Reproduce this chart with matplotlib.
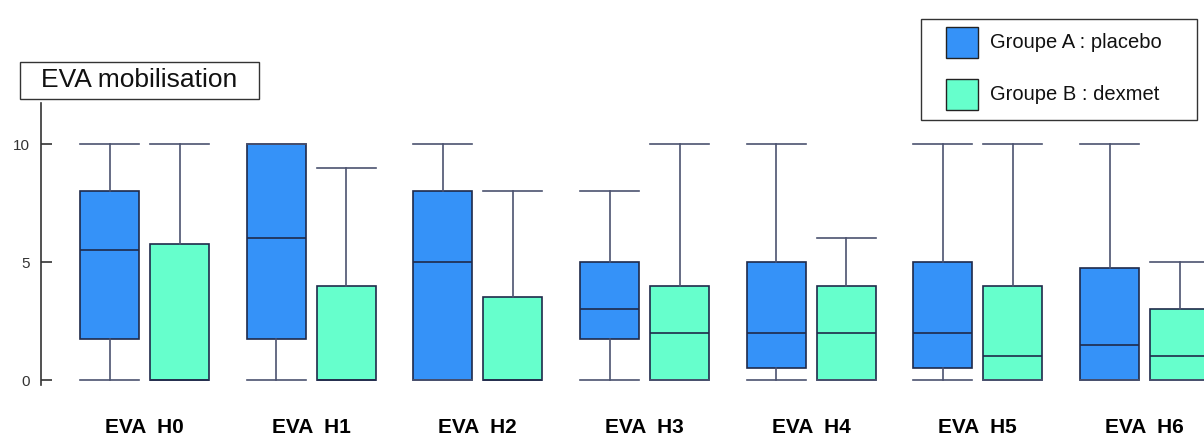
import matplotlib.pyplot as plt
from matplotlib.patches import Rectangle

plt.rcParams['font.family'] = ['Liberation Sans', 'DejaVu Sans']

# EVA mobilisation, lecture des boites (min, q1, mediane, q3, max)
labels = ['EVA  H0', 'EVA  H1', 'EVA  H2', 'EVA  H3', 'EVA  H4', 'EVA  H5', 'EVA  H6']

a_lo = [0, 0, 0, 0, 0, 0, 0]
a_q1 = [1.75, 1.75, 0, 1.75, 0.5, 0.5, 0]
a_med = [5.5, 6, 5, 3, 2, 2, 1.5]
a_q3 = [8, 10, 8, 5, 5, 5, 4.75]
a_hi = [10, 10, 10, 8, 10, 10, 10]

b_lo = [0, 0, 0, 0, 0, 0, 0]
b_q1 = [0, 0, 0, 0, 0, 0, 0]
b_med = [0, 0, 0, 2, 2, 1, 1]
b_q3 = [5.75, 4, 3.5, 4, 4, 4, 3]
b_hi = [10, 9, 8, 10, 6, 10, 5]

bleu = '#3592f8'
vert = '#66ffcc'
bord = '#1f2a4a'
moust = '#4c5370'


def stats(lo, q1, med, q3, hi):
    return [dict(whislo=l, q1=a, med=m, q3=b, whishi=h, fliers=[])
            for l, a, m, b, h in zip(lo, q1, med, q3, hi)]


fig = plt.figure(figsize=(12.04, 4.38), dpi=100)
ax = fig.add_axes([41 / 1204, 53 / 438, 1163 / 1204, 282 / 438])

w = 0.354
x = range(len(labels))
for st, dx, col in [(stats(a_lo, a_q1, a_med, a_q3, a_hi), -0.21, bleu),
                    (stats(b_lo, b_q1, b_med, b_q3, b_hi), 0.21, vert)]:
    ax.bxp(st, positions=[i + dx for i in x], widths=w, capwidths=w,
           patch_artist=True, showfliers=False, manage_ticks=False,
           boxprops=dict(facecolor=col, edgecolor=bord, linewidth=1.2),
           whiskerprops=dict(color=moust, linewidth=1.2),
           capprops=dict(color=moust, linewidth=1.2),
           medianprops=dict(color=bord, linewidth=1.2))

ax.set_xlim(-0.621, 6.357)
ax.set_ylim(-0.21, 11.74)
for s in ['top', 'right', 'bottom']:
    ax.spines[s].set_visible(False)
ax.spines['left'].set_color('#333333')
ax.spines['left'].set_linewidth(1.2)

ax.set_yticks([0, 5, 10])
ax.tick_params(axis='y', direction='in', length=8, width=1.2, color='#333333',
               labelsize=11, labelcolor='#333333', pad=8)
ax.set_xticks(list(x))
ax.set_xticklabels(labels, fontsize=15, fontweight='bold')
ax.tick_params(axis='x', length=0, pad=24)

# titre encadre
fig.add_artist(Rectangle((20 / 1204, 1 - 99 / 438), 239 / 1204, 37 / 438,
                         transform=fig.transFigure, fc='white', ec='#333333', lw=1))
fig.text(139 / 1204, 1 - 80 / 438, 'EVA mobilisation', fontsize=19,
         ha='center', va='center', color='#111111')

# legende
fig.add_artist(Rectangle((921 / 1204, 1 - 120 / 438), 276 / 1204, 101 / 438,
                         transform=fig.transFigure, fc='white', ec='#333333', lw=1))
for y0, col, txt in [(27, bleu, 'Groupe A : placebo'), (79, vert, 'Groupe B : dexmet')]:
    fig.add_artist(Rectangle((946 / 1204, 1 - (y0 + 31) / 438), 32 / 1204, 31 / 438,
                             transform=fig.transFigure, fc=col, ec='#222222', lw=1))
    fig.text(990 / 1204, 1 - (y0 + 16) / 438, txt, fontsize=14.5,
             ha='left', va='center', color='#111111')

fig.savefig('out.png', dpi=100)
